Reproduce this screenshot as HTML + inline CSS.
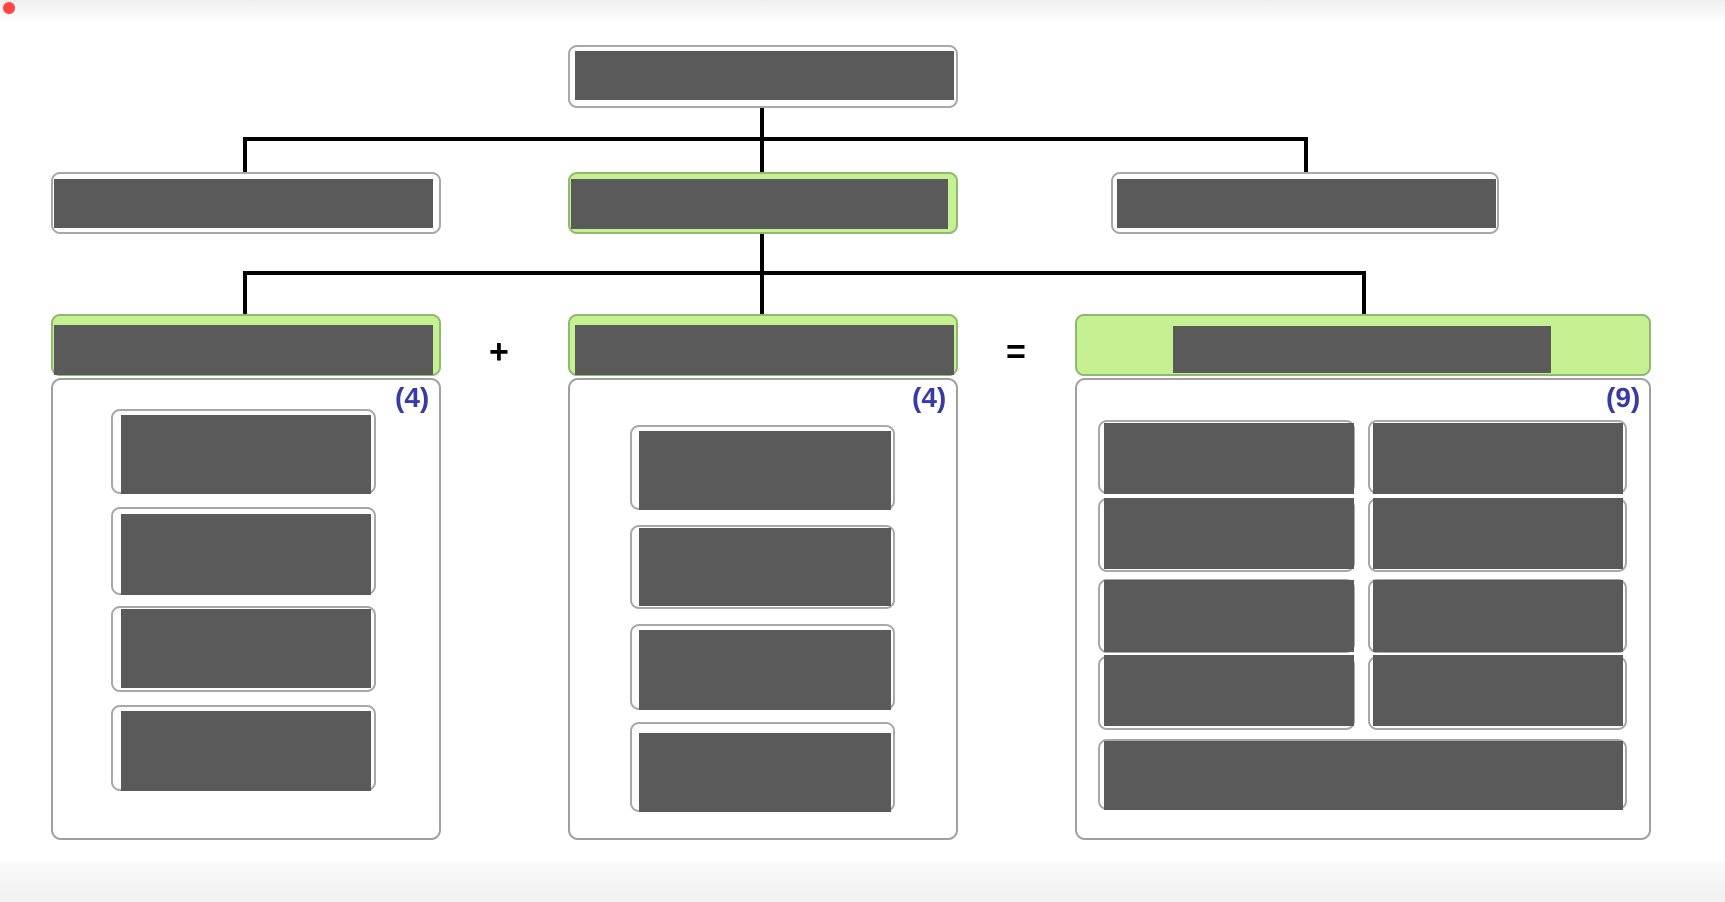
<!DOCTYPE html>
<html><head><meta charset="utf-8"><style>
body{margin:0;width:1725px;height:902px;position:relative;background:#fff;overflow:hidden;font-family:"Liberation Sans",sans-serif}
div{position:absolute;box-sizing:border-box}
.o{border:2px solid #a8a8a8;border-radius:9px;background:#fdfdfd}
.g{border:2px solid #8fb870;border-radius:9px;background:#c6f193}
.d{background:#5a5a5a}
.c{border:2px solid #a0a0a0;border-radius:10px;background:#fff}
.l{background:#000}
.n{color:#3a3aa6;font-weight:bold;font-size:28px}
</style></head><body>
<div style="left:0;top:0;width:1725px;height:24px;background:linear-gradient(#eee,#fff)"></div>
<div style="left:0;top:862px;width:1725px;height:40px;background:linear-gradient(#fafafa,#f1f1f1)"></div>
<div style="left:3px;top:2px;width:12px;height:12px;border-radius:6px;background:#f44"></div>

<div class="l" style="left:760px;top:108px;width:4px;height:64px"></div>
<div class="l" style="left:243px;top:137px;width:1065px;height:4px"></div>
<div class="l" style="left:243px;top:137px;width:4px;height:35px"></div>
<div class="l" style="left:1304px;top:137px;width:4px;height:35px"></div>
<div class="l" style="left:760px;top:234px;width:4px;height:80px"></div>
<div class="l" style="left:243px;top:271px;width:1123px;height:4px"></div>
<div class="l" style="left:243px;top:271px;width:4px;height:43px"></div>
<div class="l" style="left:1362px;top:271px;width:4px;height:43px"></div>

<div class="o" style="left:568px;top:45px;width:390px;height:63px"></div>
<div class="d" style="left:575px;top:51px;width:379px;height:49px"></div>
<div class="o" style="left:51px;top:172px;width:390px;height:62px"></div>
<div class="d" style="left:54px;top:179px;width:379px;height:49px"></div>
<div class="g" style="left:568px;top:172px;width:390px;height:62px"></div>
<div class="d" style="left:571px;top:179px;width:377px;height:50px"></div>
<div class="o" style="left:1111px;top:172px;width:388px;height:62px"></div>
<div class="d" style="left:1117px;top:179px;width:379px;height:49px"></div>
<div class="g" style="left:51px;top:314px;width:390px;height:62px"></div>
<div class="d" style="left:54px;top:325px;width:379px;height:50px"></div>
<div class="g" style="left:568px;top:314px;width:390px;height:62px"></div>
<div class="d" style="left:575px;top:325px;width:379px;height:50px"></div>
<div class="g" style="left:1075px;top:314px;width:576px;height:62px"></div>
<div class="d" style="left:1173px;top:326px;width:378px;height:47px"></div>
<div style="left:489px;top:333px;font-size:34px;font-weight:bold">+</div>
<div style="left:1006px;top:333px;font-size:34px;font-weight:bold">=</div>

<div class="c" style="left:51px;top:378px;width:390px;height:462px"></div>
<div class="c" style="left:568px;top:378px;width:390px;height:462px"></div>
<div class="c" style="left:1075px;top:378px;width:576px;height:462px"></div>
<div class="n" style="left:395px;top:382px">(4)</div>
<div class="n" style="left:912px;top:382px">(4)</div>
<div class="n" style="left:1606px;top:382px">(9)</div>

<div class="o" style="left:111px;top:409px;width:265px;height:85px"></div><div class="d" style="left:121px;top:415px;width:250px;height:79px"></div>
<div class="o" style="left:111px;top:507px;width:265px;height:88px"></div><div class="d" style="left:121px;top:514px;width:250px;height:81px"></div>
<div class="o" style="left:111px;top:606px;width:265px;height:86px"></div><div class="d" style="left:121px;top:609px;width:250px;height:79px"></div>
<div class="o" style="left:111px;top:705px;width:265px;height:86px"></div><div class="d" style="left:121px;top:711px;width:250px;height:80px"></div>
<div class="o" style="left:630px;top:425px;width:265px;height:85px"></div><div class="d" style="left:639px;top:431px;width:252px;height:79px"></div>
<div class="o" style="left:630px;top:525px;width:265px;height:84px"></div><div class="d" style="left:639px;top:528px;width:252px;height:78px"></div>
<div class="o" style="left:630px;top:624px;width:265px;height:86px"></div><div class="d" style="left:639px;top:630px;width:252px;height:80px"></div>
<div class="o" style="left:630px;top:722px;width:265px;height:90px"></div><div class="d" style="left:639px;top:733px;width:252px;height:79px"></div>
<div class="o" style="left:1098px;top:420px;width:257px;height:74px"></div><div class="d" style="left:1104px;top:423px;width:250px;height:71px"></div>
<div class="o" style="left:1368px;top:420px;width:259px;height:74px"></div><div class="d" style="left:1373px;top:423px;width:250px;height:71px"></div>
<div class="o" style="left:1098px;top:498px;width:257px;height:74px"></div><div class="d" style="left:1104px;top:498px;width:250px;height:71px"></div>
<div class="o" style="left:1368px;top:498px;width:259px;height:74px"></div><div class="d" style="left:1373px;top:498px;width:250px;height:71px"></div>
<div class="o" style="left:1098px;top:579px;width:257px;height:74px"></div><div class="d" style="left:1104px;top:580px;width:250px;height:72px"></div>
<div class="o" style="left:1368px;top:579px;width:259px;height:74px"></div><div class="d" style="left:1373px;top:580px;width:250px;height:72px"></div>
<div class="o" style="left:1098px;top:656px;width:257px;height:74px"></div><div class="d" style="left:1104px;top:655px;width:250px;height:71px"></div>
<div class="o" style="left:1368px;top:656px;width:259px;height:74px"></div><div class="d" style="left:1373px;top:655px;width:250px;height:71px"></div>
<div class="o" style="left:1098px;top:739px;width:529px;height:71px"></div><div class="d" style="left:1104px;top:741px;width:519px;height:69px"></div>
</body></html>
